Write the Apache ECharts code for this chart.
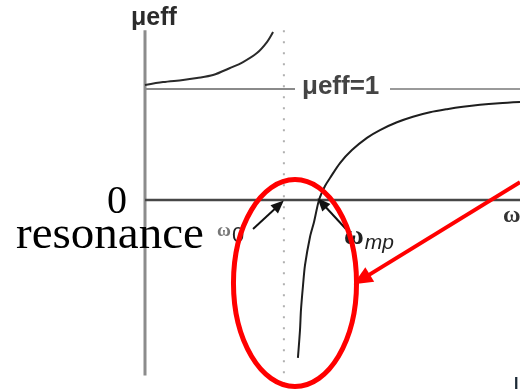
<!DOCTYPE html>
<html>
<head>
<meta charset="utf-8">
<script src="https://cdn.jsdelivr.net/npm/echarts@6/dist/echarts.min.js"></script>
<style>
  html, body { margin: 0; padding: 0; background: #fff; }
  #chart { width: 520px; height: 391px; }
</style>
</head>
<body>
<div id="chart"></div>
<script>
// Effective permeability of a resonant medium versus frequency (omega0 = 1)
const belowResonance = [
  [0.000, 1.036], [0.130, 1.063], [0.274, 1.081], [0.374, 1.099], [0.490, 1.126],
  [0.612, 1.189], [0.706, 1.243], [0.806, 1.324], [0.878, 1.423], [0.922, 1.514]
];
const aboveResonance = [
  [1.101, -1.423], [1.116, -1.171], [1.123, -0.991], [1.138, -0.766], [1.152, -0.586],
  [1.188, -0.333], [1.217, -0.198], [1.253, 0.000], [1.296, 0.126], [1.332, 0.198],
  [1.404, 0.333], [1.490, 0.450], [1.598, 0.560], [1.692, 0.630], [1.814, 0.700],
  [1.929, 0.750], [2.052, 0.790], [2.174, 0.818], [2.289, 0.840], [2.412, 0.858],
  [2.549, 0.872], [2.700, 0.883]
];
const omega0 = 1.0;
const omegaMp = 1.253;
const unity = 1.0;
const axisTop = 1.53;
const axisBottom = -1.58;
const xMax = 2.7;
const yMin = -1.7;
const yMax = 1.6;

const chart = echarts.init(document.getElementById('chart'));

function seg(points, color, width, type) {
  return {
    type: 'line', data: points, symbol: 'none', silent: true, clip: false,
    lineStyle: { color: color, width: width, type: type || 'solid' }, z: 2
  };
}

const option = {
  animation: false,
  backgroundColor: '#ffffff',
  grid: { left: 145, top: 22.4, width: 375, height: 366.3 },
  xAxis: { type: 'value', min: 0, max: xMax, show: false },
  yAxis: { type: 'value', min: yMin, max: yMax, show: false },
  series: [
    seg([[0, axisTop], [0, axisBottom]], '#8c8c8c', 3),
    seg([[0, 0], [xMax, 0]], '#474747', 2.5),
    seg([[0, unity], [1.08, unity]], '#8a8a8a', 2),
    seg([[1.764, unity], [xMax, unity]], '#9a9a9a', 2),
    seg([[omega0, axisTop], [omega0, yMin]], '#b0b0b0', 2, [2, 9]),
    {
      type: 'line', data: belowResonance, symbol: 'none', smooth: 0.3, clip: false,
      lineStyle: { color: '#2a2a2a', width: 2 }, z: 3
    },
    {
      type: 'line', data: aboveResonance, symbol: 'none', smooth: 0.3, clip: false,
      lineStyle: { color: '#1e1e1e', width: 2 }, z: 3,
      markLine: {
        silent: true, symbol: ['none', 'triangle'], label: { show: false },
        data: [
          [{ coord: [0.778, -0.261], symbol: 'none', lineStyle: { color: '#111', width: 2, type: 'solid' } },
           { coord: [0.965, -0.045], symbol: 'triangle', symbolSize: [11, 13] }],
          [{ coord: [1.447, -0.261], symbol: 'none', lineStyle: { color: '#111', width: 2, type: 'solid' } },
           { coord: [omegaMp + 0.021, -0.027], symbol: 'triangle', symbolSize: [11, 13] }],
          [{ coord: [xMax, 0.160], symbol: 'none', lineStyle: { color: '#ff0000', width: 4, type: 'solid' } },
           { coord: [1.560, -0.715], symbol: 'triangle', symbolSize: [17, 19] }]
        ]
      }
    }
  ]
};
chart.setOption(option);

// red ellipse around the resonance branch, placed in data coordinates
const ringCenter = chart.convertToPixel({ gridIndex: 0 }, [1.08, -0.748]);
const ringEdge = chart.convertToPixel({ gridIndex: 0 }, [1.08 + 0.443, -0.748 + 0.932]);

const sans = '"Liberation Sans", Arial, sans-serif';
const serif = '"Liberation Serif", "Times New Roman", serif';

chart.setOption({
  graphic: [
    {
      type: 'ellipse', z: 100,
      shape: { cx: ringCenter[0], cy: ringCenter[1], rx: ringEdge[0] - ringCenter[0], ry: ringCenter[1] - ringEdge[1] },
      style: { fill: 'none', stroke: '#ff0000', lineWidth: 5 }
    },
    { type: 'text', left: 131, top: 6, z: 50,
      style: { text: 'μeff', font: 'bold 25px ' + sans, fill: '#2b2b2b' } },
    { type: 'text', left: 302, top: 74, z: 50,
      style: { text: 'μeff=1', font: 'bold 26px ' + sans, fill: '#444' } },
    { type: 'text', left: 107, top: 182, z: 50,
      style: { text: '0', font: '40px ' + serif, fill: '#000' } },
    { type: 'text', left: 16, top: 212, z: 50,
      style: { text: 'resonance', font: '47px ' + serif, fill: '#000' } },
    { type: 'text', left: 217, top: 222, z: 50,
      style: { text: '{w|ω}{s|0}', rich: {
        w: { font: 'bold 19px ' + serif, fill: '#777' },
        s: { font: '22px ' + sans, fill: '#222', padding: [8, 0, 0, 1] } } } },
    { type: 'text', left: 344, top: 224, z: 50,
      style: { text: '{w|ω}{s|mp}', rich: {
        w: { font: 'bold 27px ' + serif, fill: '#222' },
        s: { font: 'italic 21px ' + sans, fill: '#222', padding: [12, 0, 0, 1] } } } },
    { type: 'text', left: 503, top: 204, z: 50,
      style: { text: 'ω', font: 'bold 24px ' + serif, fill: '#333' } },
    { type: 'text', left: 514, top: 377, z: 50,
      style: { text: 'I', font: 'bold 16px ' + sans, fill: '#1c2a36' } }
  ]
});
</script>
</body>
</html>
